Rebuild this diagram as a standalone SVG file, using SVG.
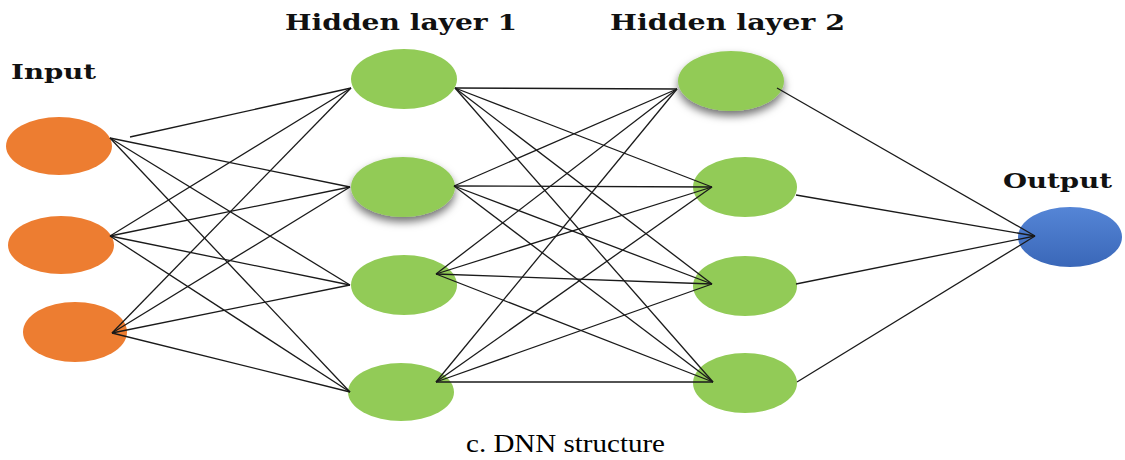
<svg xmlns="http://www.w3.org/2000/svg" width="1125" height="460" viewBox="0 0 1125 460">
<style>
.in{fill:#ED7D31}
.hid{fill:#92CB57}
.lbl{font-family:"DejaVu Serif",serif;font-weight:bold;font-size:21px;fill:#111}
.big{font-size:23px}
.cap{font-family:"Liberation Serif",serif;font-size:26px;fill:#000}
#edges line{stroke:#1a1a1a;stroke-width:1.3}
</style>
<defs>
<filter id="sh" x="-30%" y="-30%" width="160%" height="170%">
<feDropShadow dx="0" dy="5" stdDeviation="4" flood-color="#000" flood-opacity="0.55"/>
</filter>
<linearGradient id="blue" x1="0" y1="0" x2="0" y2="1">
<stop offset="0" stop-color="#5585D6"/>
<stop offset="1" stop-color="#3A67B8"/>
</linearGradient>
</defs>
<rect width="1125" height="460" fill="#fff"/>
<g id="labels">
<text class="lbl" x="11" y="79" textLength="85" lengthAdjust="spacingAndGlyphs">Input</text>
<text class="lbl big" x="285" y="30" textLength="232" lengthAdjust="spacingAndGlyphs">Hidden layer 1</text>
<text class="lbl big" x="610" y="30" textLength="235" lengthAdjust="spacingAndGlyphs">Hidden layer 2</text>
<text class="lbl" x="1003" y="188" textLength="109" lengthAdjust="spacingAndGlyphs">Output</text>
<text class="cap" x="466" y="452" textLength="199" lengthAdjust="spacingAndGlyphs">c. DNN structure</text>
</g>
<g id="input1"><ellipse class="in" cx="59" cy="146" rx="53" ry="29"/></g>
<g id="input2"><ellipse class="in" cx="61" cy="245" rx="53" ry="29"/></g>
<g id="input3"><ellipse class="in" cx="75" cy="332" rx="52" ry="30"/></g>
<g id="h1a"><ellipse class="hid" cx="404" cy="79" rx="53" ry="30"/></g>
<g id="h1b"><ellipse class="hid" cx="403" cy="187" rx="52" ry="30" filter="url(#sh)"/></g>
<g id="h1c"><ellipse class="hid" cx="404" cy="285" rx="53" ry="30"/></g>
<g id="h1d"><ellipse class="hid" cx="401" cy="392" rx="53" ry="29"/></g>
<g id="h2a"><ellipse class="hid" cx="731" cy="81" rx="53" ry="30" filter="url(#sh)"/></g>
<g id="h2b"><ellipse class="hid" cx="745" cy="187" rx="52" ry="30"/></g>
<g id="h2c"><ellipse class="hid" cx="745" cy="286" rx="52" ry="30"/></g>
<g id="h2d"><ellipse class="hid" cx="745" cy="383" rx="52" ry="30"/></g>
<g id="output"><ellipse cx="1070" cy="237" rx="52" ry="30" fill="url(#blue)"/></g>
<g id="edges">
<line x1="130" y1="137" x2="351" y2="88"/>
<line x1="110" y1="138" x2="350" y2="187"/>
<line x1="110" y1="138" x2="350" y2="285"/>
<line x1="110" y1="138" x2="350" y2="392"/>
<line x1="110" y1="236" x2="351" y2="88"/>
<line x1="110" y1="236" x2="350" y2="187"/>
<line x1="110" y1="236" x2="350" y2="285"/>
<line x1="110" y1="236" x2="350" y2="392"/>
<line x1="112" y1="333" x2="351" y2="88"/>
<line x1="112" y1="333" x2="350" y2="187"/>
<line x1="112" y1="333" x2="350" y2="285"/>
<line x1="112" y1="333" x2="350" y2="392"/>
<line x1="455" y1="88" x2="677" y2="89"/>
<line x1="455" y1="88" x2="712" y2="187"/>
<line x1="455" y1="88" x2="712" y2="284"/>
<line x1="455" y1="88" x2="713" y2="382"/>
<line x1="454" y1="186" x2="677" y2="89"/>
<line x1="454" y1="186" x2="712" y2="187"/>
<line x1="454" y1="186" x2="712" y2="284"/>
<line x1="454" y1="186" x2="713" y2="382"/>
<line x1="436" y1="274" x2="677" y2="89"/>
<line x1="436" y1="274" x2="712" y2="187"/>
<line x1="436" y1="274" x2="712" y2="284"/>
<line x1="436" y1="274" x2="713" y2="382"/>
<line x1="436" y1="382" x2="677" y2="89"/>
<line x1="436" y1="382" x2="712" y2="187"/>
<line x1="436" y1="382" x2="712" y2="284"/>
<line x1="436" y1="382" x2="713" y2="382"/>
<line x1="777" y1="88" x2="1035" y2="236"/>
<line x1="796" y1="195" x2="1035" y2="236"/>
<line x1="796" y1="284" x2="1035" y2="236"/>
<line x1="797" y1="382" x2="1035" y2="236"/>
</g>
</svg>
